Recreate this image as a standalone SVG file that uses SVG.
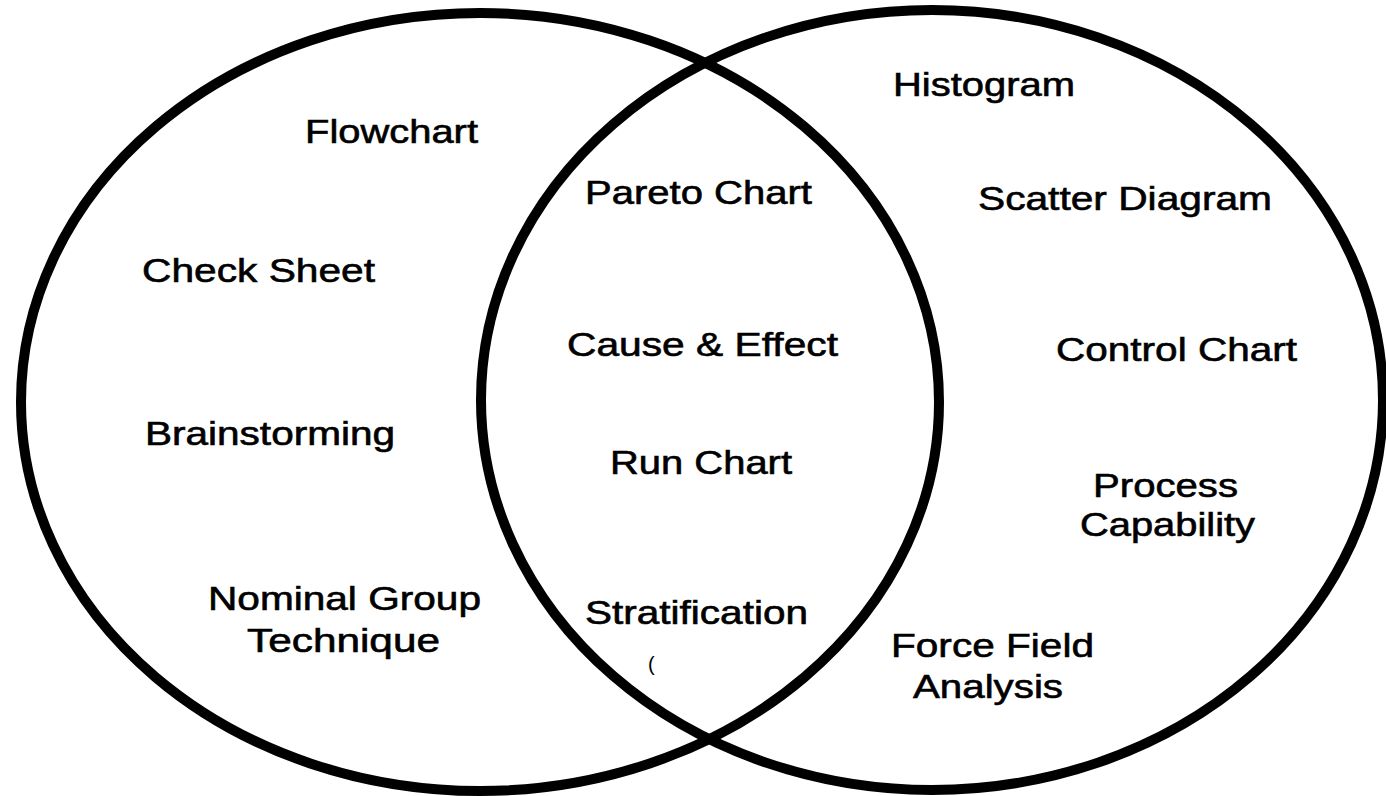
<svg xmlns="http://www.w3.org/2000/svg" width="1386" height="796" viewBox="0 0 1386 796">
<style>
.set{fill:none;stroke:#000;stroke-width:10}
.lbl{font-family:"Liberation Sans",Arial,sans-serif;font-size:33px;fill:#000;stroke:#000;stroke-width:0.6}
.mark{font-family:"Liberation Sans",Arial,sans-serif;font-size:20px;fill:#000}
</style>
<rect width="1386" height="796" fill="#fff"/>
<g id="set-left"><ellipse class="set" cx="480" cy="402" rx="459" ry="389"/></g>
<g id="set-right"><ellipse class="set" cx="932" cy="400" rx="451" ry="390"/></g>
<g id="flowchart"><text class="lbl" x="305" y="143" textLength="173" lengthAdjust="spacingAndGlyphs">Flowchart</text></g>
<g id="check-sheet"><text class="lbl" x="142" y="282" textLength="233" lengthAdjust="spacingAndGlyphs">Check Sheet</text></g>
<g id="brainstorming"><text class="lbl" x="145" y="445" textLength="250" lengthAdjust="spacingAndGlyphs">Brainstorming</text></g>
<g id="nominal-group"><text class="lbl" x="208" y="610" textLength="273" lengthAdjust="spacingAndGlyphs">Nominal Group</text><text class="lbl" x="247" y="652" textLength="193" lengthAdjust="spacingAndGlyphs">Technique</text></g>
<g id="pareto"><text class="lbl" x="585" y="204" textLength="227" lengthAdjust="spacingAndGlyphs">Pareto Chart</text></g>
<g id="cause-effect"><text class="lbl" x="567" y="356" textLength="271" lengthAdjust="spacingAndGlyphs">Cause &amp; Effect</text></g>
<g id="run-chart"><text class="lbl" x="610" y="474" textLength="182" lengthAdjust="spacingAndGlyphs">Run Chart</text></g>
<g id="stratification"><text class="lbl" x="585" y="624" textLength="223" lengthAdjust="spacingAndGlyphs">Stratification</text><text class="mark" x="648" y="671">(</text></g>
<g id="histogram"><text class="lbl" x="893" y="96" textLength="182" lengthAdjust="spacingAndGlyphs">Histogram</text></g>
<g id="scatter"><text class="lbl" x="978" y="210" textLength="294" lengthAdjust="spacingAndGlyphs">Scatter Diagram</text></g>
<g id="control-chart"><text class="lbl" x="1056" y="361" textLength="241" lengthAdjust="spacingAndGlyphs">Control Chart</text></g>
<g id="process-capability"><text class="lbl" x="1093" y="497" textLength="145" lengthAdjust="spacingAndGlyphs">Process</text><text class="lbl" x="1080" y="536" textLength="175" lengthAdjust="spacingAndGlyphs">Capability</text></g>
<g id="force-field"><text class="lbl" x="891" y="657" textLength="203" lengthAdjust="spacingAndGlyphs">Force Field</text><text class="lbl" x="913" y="698" textLength="150" lengthAdjust="spacingAndGlyphs">Analysis</text></g>
</svg>
